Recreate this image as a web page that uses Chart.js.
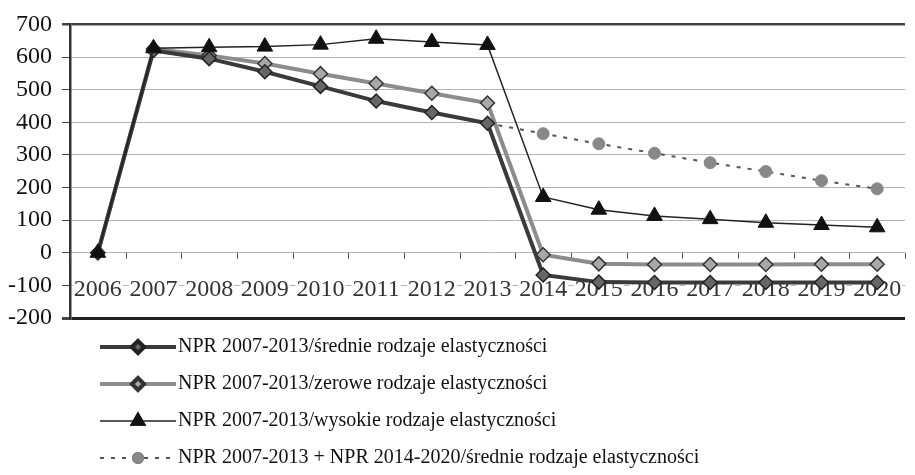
<!DOCTYPE html>
<html>
<head>
<meta charset="utf-8">
<script src="https://cdn.jsdelivr.net/npm/chart.js@4"></script>
<style>
  html, body { margin: 0; padding: 0; background: #fff; }
  #wrap { width: 915px; height: 475px; }
</style>
</head>
<body>
<div id="wrap"><canvas id="lineChart"></canvas></div>
<script>
const years = ['2006', '2007', '2008', '2009', '2010', '2011', '2012', '2013', '2014', '2015', '2016', '2017', '2018', '2019', '2020'];
const yTicks = [700, 600, 500, 400, 300, 200, 100, 0, -100, -200];

const srednie = [0, 620, 595, 555, 510, 465, 430, 397, -68, -90, -91, -91, -91, -91, -91];
const zerowe = [0, 625, 605, 580, 549, 519, 489, 459, -6, -34, -36, -36, -36, -35, -35];
const wysokie = [0, 627, 630, 632, 638, 656, 646, 637, 171, 132, 113, 103, 92, 85, 78];
const srednie2014 = [null, null, null, null, null, null, null, 397, 365, 334, 305, 276, 249, 221, 196];

const labelsSeries = [
    'NPR 2007-2013/średnie rodzaje elastyczności',
    'NPR 2007-2013/zerowe rodzaje elastyczności',
    'NPR 2007-2013/wysokie rodzaje elastyczności',
    'NPR 2007-2013 + NPR 2014-2020/średnie rodzaje elastyczności'
];

const serif = '"Liberation Serif", "DejaVu Serif", serif';

// etykiety lat na poziomie -100 i kreski na linii 0
const yearLabels = {
    id: 'yearLabels',
    beforeDatasetsDraw(chart) {
        const { ctx, scales: { x, y } } = chart;
        const y0 = y.getPixelForValue(0);
        ctx.save();
        ctx.strokeStyle = '#555';
        ctx.lineWidth = 1;
        for (let i = 0; i <= years.length; i++) {
            const px = Math.round(x.getPixelForValue(i - 0.5)) + 0.5;
            ctx.beginPath();
            ctx.moveTo(px, y0);
            ctx.lineTo(px, y0 + 6);
            ctx.stroke();
        }
        ctx.fillStyle = '#333';
        ctx.font = '24px ' + serif;
        ctx.textAlign = 'center';
        ctx.textBaseline = 'middle';
        const yl = y.getPixelForValue(-100) + 4;
        years.forEach((yr, i) => {
            const px = x.getPixelForValue(i);
            const w = ctx.measureText(yr).width;
            ctx.fillStyle = '#fff';
            ctx.fillRect(px - w / 2 - 1, yl - 10, w + 2, 20);
            ctx.fillStyle = '#333';
            ctx.fillText(yr, px, yl);
        });
        ctx.restore();
    }
};

// legenda pionowa pod wykresem
const bottomLegend = {
    id: 'bottomLegend',
    afterDraw(chart) {
        const { ctx } = chart;
        const rows = [347, 384, 421, 458];
        ctx.save();
        chart.data.datasets.forEach((ds, i) => {
            const yy = rows[i];
            ctx.strokeStyle = ds.borderColor;
            ctx.lineWidth = ds.borderWidth;
            ctx.setLineDash(ds.borderDash || []);
            ctx.beginPath();
            ctx.moveTo(100, yy);
            ctx.lineTo(176, yy);
            ctx.stroke();
            ctx.setLineDash([]);
            Chart.helpers.drawPoint(ctx, {
                pointStyle: ds.pointStyle,
                radius: ds.legendRadius,
                borderWidth: 1
            }, 138, yy);
            ctx.fillStyle = ds.pointBackgroundColor;
            ctx.strokeStyle = ds.pointBorderColor;
            ctx.beginPath();
            Chart.helpers.drawPoint(ctx, {
                pointStyle: ds.pointStyle,
                radius: ds.legendRadius,
                borderWidth: 1
            }, 138, yy);
            ctx.fillStyle = '#111';
            ctx.font = '20px ' + serif;
            ctx.textAlign = 'left';
            ctx.textBaseline = 'middle';
            ctx.fillText(ds.label, 178, yy);
        });
        ctx.restore();
    }
};

const ctx = document.getElementById('lineChart').getContext('2d');
const lineChart = new Chart(ctx, {
    type: 'line',
    data: {
        labels: years,
        datasets: [
            {
                label: labelsSeries[0],
                data: srednie,
                borderColor: '#3a3a3a',
                borderWidth: 4,
                pointStyle: 'rectRot',
                pointRadius: 7,
                legendRadius: 6,
                pointBackgroundColor: '#666',
                pointBorderColor: '#222',
                pointBorderWidth: 1.5,
                order: 2
            },
            {
                label: labelsSeries[1],
                data: zerowe,
                borderColor: '#8c8c8c',
                borderWidth: 4,
                pointStyle: 'rectRot',
                pointRadius: 7,
                legendRadius: 6,
                pointBackgroundColor: '#a8a8a8',
                pointBorderColor: '#333',
                pointBorderWidth: 1.5,
                order: 3
            },
            {
                label: labelsSeries[2],
                data: wysokie,
                borderColor: '#222',
                borderWidth: 1.5,
                pointStyle: 'triangle',
                pointRadius: 9,
                legendRadius: 8,
                pointBackgroundColor: '#111',
                pointBorderColor: '#111',
                pointBorderWidth: 1,
                order: 1
            },
            {
                label: labelsSeries[3],
                data: srednie2014,
                borderColor: '#555',
                borderWidth: 2,
                borderDash: [4, 7],
                pointStyle: 'circle',
                pointRadius: (c) => c.dataIndex === 7 ? 0 : 6,
                legendRadius: 5,
                pointBackgroundColor: '#888',
                pointBorderColor: '#888',
                pointBorderWidth: 1,
                order: 4
            }
        ]
    },
    options: {
        responsive: true,
        maintainAspectRatio: false,
        animation: false,
        layout: { padding: { top: 22, right: 0, bottom: 157, left: 0 } },
        scales: {
            x: {
                display: false,
                offset: true
            },
            y: {
                min: -200,
                max: 700,
                afterFit(scale) { scale.width = 70; },
                ticks: {
                    stepSize: 100,
                    color: '#111',
                    font: { family: serif, size: 24 },
                    padding: 10
                },
                border: { color: '#333', width: 2.5 },
                grid: {
                    tickLength: 8,
                    tickColor: '#444',
                    color: (c) => c.tick && c.tick.value === 700 ? '#444' : (c.tick && c.tick.value === -200 ? '#222' : '#b4b4b4'),
                    lineWidth: (c) => c.tick && c.tick.value === 700 ? 2.5 : (c.tick && c.tick.value === -200 ? 3 : 1)
                }
            }
        },
        plugins: {
            legend: { display: false },
            tooltip: { enabled: false }
        }
    },
    plugins: [yearLabels, bottomLegend]
});
</script>
</body>
</html>
